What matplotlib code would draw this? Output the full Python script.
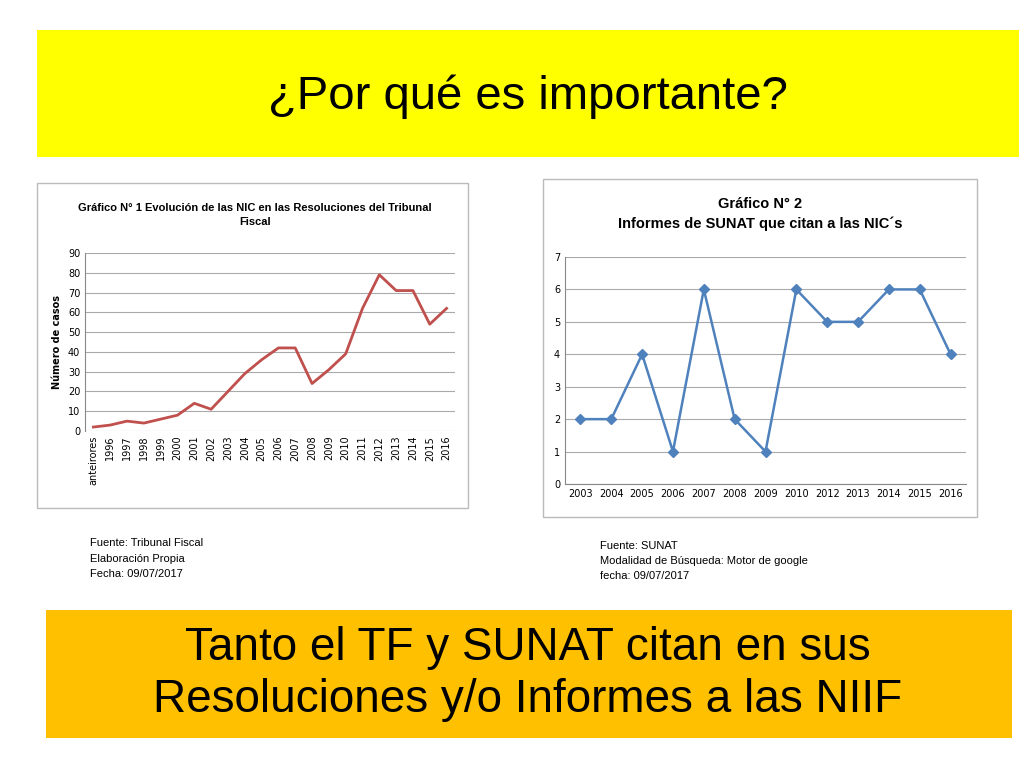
import matplotlib.pyplot as plt
from matplotlib.patches import Rectangle

# chart 1
years1 = ['anteirores', '1996', '1997', '1998', '1999', '2000', '2001', '2002', '2003', '2004',
          '2005', '2006', '2007', '2008', '2009', '2010', '2011', '2012', '2013', '2014', '2015', '2016']
casos = [2, 3, 5, 4, 6, 8, 14, 11, 20, 29, 36, 42, 42, 24, 31, 39, 62, 79, 71, 71, 54, 62]

# chart 2
years2 = ['2003', '2004', '2005', '2006', '2007', '2008', '2009', '2010', '2012', '2013', '2014', '2015', '2016']
informes = [2, 2, 4, 1, 6, 2, 1, 6, 5, 5, 6, 6, 4]

W, H = 1024, 768
fig = plt.figure(figsize=(10.24, 7.68), dpi=100)
fig.patch.set_facecolor('white')


def box(x0, y0, x1, y1, **kw):
    fig.patches.append(Rectangle((x0 / W, 1 - y1 / H), (x1 - x0) / W, (y1 - y0) / H,
                                 transform=fig.transFigure, zorder=-1, **kw))


def ax_at(x0, y0, x1, y1):
    ax = fig.add_axes([x0 / W, 1 - y1 / H, (x1 - x0) / W, (y1 - y0) / H])
    ax.patch.set_alpha(0)
    return ax


box(37, 30, 1019, 157, facecolor='#FFFF00', edgecolor='none')
fig.text(528 / W, 1 - 97 / H, '¿Por qué es importante?', fontsize=34, ha='center', va='center',
         family='Liberation Sans')
box(46, 610, 1012, 738, facecolor='#FFC000', edgecolor='none')
fig.text(528 / W, 1 - 674 / H, 'Tanto el TF y SUNAT citan en sus\nResoluciones y/o Informes a las NIIF',
         fontsize=33, ha='center', va='center', family='Liberation Sans', linespacing=1.25)

box(37, 183, 468, 508, facecolor='white', edgecolor='#BBBBBB', lw=1)
box(543, 179, 977, 517, facecolor='white', edgecolor='#BBBBBB', lw=1)

cond = ['Liberation Sans Narrow', 'Liberation Sans']

# left chart
ax1 = ax_at(85, 253, 455, 431)
ax1.plot(range(len(casos)), casos, color='#C0504D', lw=2)
ax1.set_ylim(0, 90)
ax1.set_yticks(range(0, 91, 10))
ax1.set_xlim(-0.5, len(casos) - 0.5)
ax1.set_xticks(range(len(years1)))
ax1.set_xticklabels(years1, rotation=90, fontsize=7)
ax1.tick_params(axis='y', labelsize=7, length=0)
ax1.tick_params(axis='x', length=0)
ax1.grid(axis='y', color='#AAAAAA', lw=0.8)
ax1.set_axisbelow(True)
for s in ['top', 'right', 'bottom']:
    ax1.spines[s].set_visible(False)
ax1.spines['left'].set_color('#888888')
ax1.set_ylabel('Número de casos', fontsize=7, fontweight='bold')
fig.text(255 / W, 1 - 215 / H, 'Gráfico N° 1 Evolución de las NIC en las Resoluciones del Tribunal\nFiscal',
         fontsize=8, fontweight='bold', ha='center', va='center', family=cond, linespacing=1.5)

# right chart
ax2 = ax_at(565, 257, 966, 484)
ax2.plot(range(len(informes)), informes, color='#4F81BD', lw=1.8, marker='D', ms=5)
ax2.set_ylim(0, 7)
ax2.set_xlim(-0.5, len(informes) - 0.5)
ax2.set_xticks(range(len(years2)))
ax2.set_xticklabels(years2, fontsize=7)
ax2.tick_params(axis='both', labelsize=7, length=0)
ax2.grid(axis='y', color='#AAAAAA', lw=0.8)
ax2.set_axisbelow(True)
for s in ['top', 'right']:
    ax2.spines[s].set_visible(False)
ax2.spines['left'].set_color('#888888')
ax2.spines['bottom'].set_color('#888888')
fig.text(760 / W, 1 - 214 / H, 'Gráfico N° 2\nInformes de SUNAT que citan a las NIC´s',
         fontsize=10.5, fontweight='bold', ha='center', va='center', family=cond, linespacing=1.4)

fig.text(90 / W, 1 - 538 / H, 'Fuente: Tribunal Fiscal\nElaboración Propia\nFecha: 09/07/2017',
         fontsize=8, ha='left', va='top', family=cond, linespacing=1.7)
fig.text(600 / W, 1 - 541 / H, 'Fuente: SUNAT\nModalidad de Búsqueda: Motor de google\nfecha: 09/07/2017',
         fontsize=8, ha='left', va='top', family=cond, linespacing=1.6)

fig.savefig('out.png', dpi=100)
